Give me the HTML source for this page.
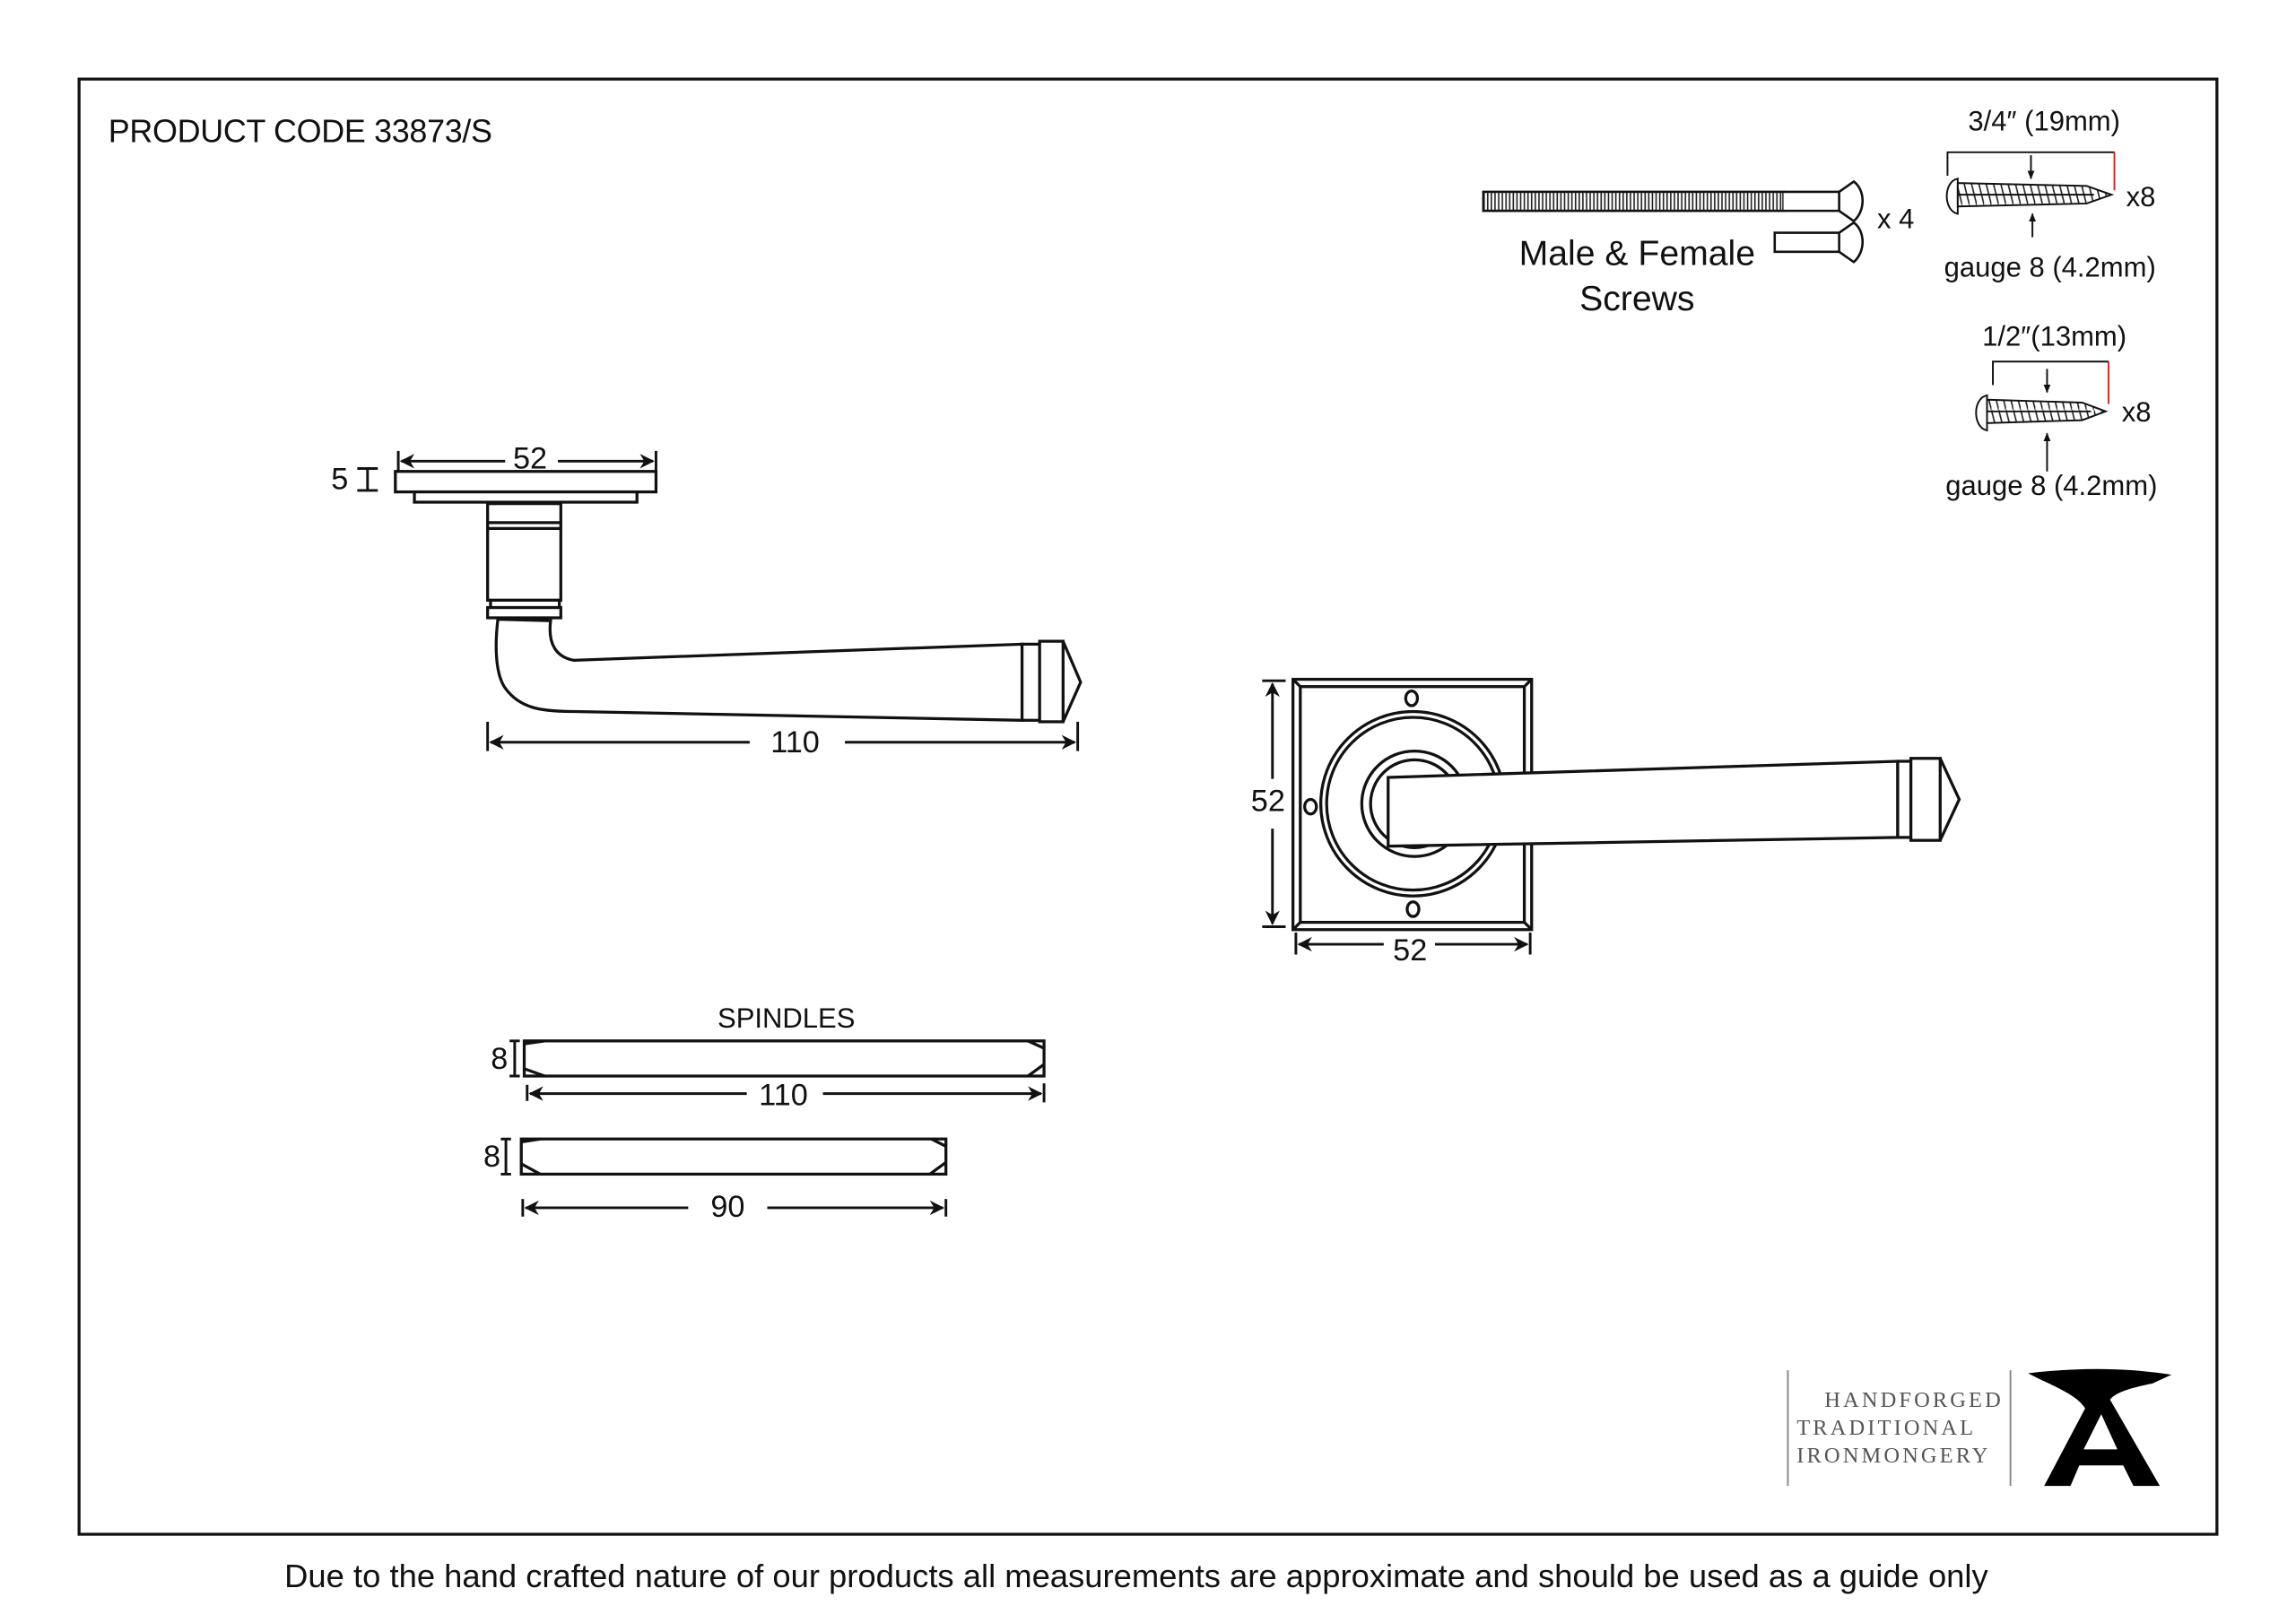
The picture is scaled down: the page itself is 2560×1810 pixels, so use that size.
<!DOCTYPE html>
<html><head><meta charset="utf-8"><style>
html,body{margin:0;padding:0;background:#fff;}
svg{display:block;}
text{font-family:"Liberation Sans",sans-serif;fill:#111;}
</style></head><body>
<svg width="2560" height="1810" viewBox="0 0 1568 1108.6" xmlns="http://www.w3.org/2000/svg">
<defs>
<marker id="a" viewBox="0 0 10 10" refX="9" refY="5" markerWidth="11" markerHeight="10" orient="auto-start-reverse" markerUnits="userSpaceOnUse"><path d="M0,0 L10,5 L0,10 L3,5 Z" fill="#111"/></marker>
<marker id="s" viewBox="0 0 10 10" refX="9" refY="5" markerWidth="6" markerHeight="6" orient="auto-start-reverse" markerUnits="userSpaceOnUse"><path d="M0,1 L10,5 L0,9 Z" fill="#111"/></marker>
<pattern id="thr" width="2.5" height="10" patternUnits="userSpaceOnUse"><rect width="2.5" height="10" fill="#fff"/><line x1="1" y1="0" x2="1" y2="10" stroke="#222" stroke-width="1"/></pattern>
<pattern id="thr2" width="5" height="20" patternUnits="userSpaceOnUse"><rect width="5" height="20" fill="#fff"/><path d="M0,0 L5,20" stroke="#222" stroke-width="1"/></pattern>
</defs>
<rect width="1568" height="1109" fill="#fff"/>
<rect x="54" y="54" width="1460" height="994" fill="none" stroke="#111" stroke-width="2"/>
<text x="74" y="97" font-size="22" letter-spacing="-0.2">PRODUCT CODE  33873/S</text>
<text x="776" y="1084" font-size="22.3" text-anchor="middle">Due to the hand crafted nature of our products all measurements are approximate and should be used as a guide only</text>

<g fill="#fff" stroke="#111" stroke-width="2">
<rect x="270" y="322" width="178" height="14"/>
<rect x="283" y="336" width="152" height="7"/>
<rect x="333" y="344" width="50" height="66"/>
<line x1="333" y1="357" x2="383" y2="357"/><line x1="333" y1="361" x2="383" y2="361"/>
<rect x="335" y="410" width="47" height="5"/>
<rect x="333" y="415" width="50" height="7"/>
<path d="M340,423 C338,440 338,460 345,470 C355,484 370,486 392,486 L698,492 L698,440 L392,451 C380,449 374,440 376,424 Z"/>
<rect x="698" y="440" width="12" height="52"/>
<rect x="710" y="438" width="16" height="55"/>
<path d="M726,438 L738,466 L726,493" fill="none"/>
<rect x="883" y="464" width="163" height="171"/>
<rect x="888" y="469" width="153" height="161"/>
<path d="M883,464 L888,469 M1046,464 L1041,469 M883,635 L888,630 M1046,635 L1041,630" fill="none"/>
<circle cx="965" cy="549" r="63"/>
<circle cx="965" cy="549" r="59"/>
<circle cx="966" cy="549" r="36"/>
<circle cx="966" cy="549" r="30"/>
<ellipse cx="964" cy="477" rx="4" ry="5"/>
<ellipse cx="965" cy="621" rx="4" ry="5"/>
<ellipse cx="895" cy="551" rx="4" ry="5"/>
<path d="M948,531 L1296,520 L1296,572 L948,578 Z"/>
<rect x="1296" y="520" width="9" height="52"/>
<rect x="1305" y="518" width="20" height="56"/>
<path d="M1325,518 L1338,546 L1325,574" fill="none"/>
<rect x="358" y="711" width="355" height="24"/>
<path d="M358,713 L372,711 M358,730 L372,735 M713,716 L702,711 M713,727 L702,735" fill="none"/>
<rect x="356" y="778" width="290" height="24"/>
<path d="M356,780 L369,778 M356,795 L369,802 M646,783 L636,778 M646,794 L635,802" fill="none"/>
</g>

<g stroke="#111" stroke-width="1.8" fill="none">
<line x1="272" y1="308" x2="272" y2="322"/><line x1="448" y1="308" x2="448" y2="322"/>
<line x1="274" y1="315" x2="345" y2="315" marker-start="url(#a)"/>
<line x1="381" y1="315" x2="446" y2="315" marker-end="url(#a)"/>
<path d="M244,320 H258 M251,320 V335 M244,335 H258"/>
<line x1="333" y1="493" x2="333" y2="513"/><line x1="736" y1="493" x2="736" y2="513"/>
<line x1="335" y1="507" x2="512" y2="507" marker-start="url(#a)"/>
<line x1="577" y1="507" x2="734" y2="507" marker-end="url(#a)"/>
<line x1="862" y1="465" x2="878" y2="465"/><line x1="862" y1="633" x2="878" y2="633"/>
<line x1="869" y1="467" x2="869" y2="532" marker-start="url(#a)"/>
<line x1="869" y1="566" x2="869" y2="631" marker-end="url(#a)"/>
<line x1="885" y1="637" x2="885" y2="652"/><line x1="1045" y1="637" x2="1045" y2="652"/>
<line x1="887" y1="645" x2="945" y2="645" marker-start="url(#a)"/>
<line x1="980" y1="645" x2="1043" y2="645" marker-end="url(#a)"/>
<path d="M348,711 H355 M351.5,711 V735 M348,735 H355"/>
<path d="M342,778 H349 M345.5,778 V802 M342,802 H349"/>
<line x1="360" y1="741" x2="360" y2="752"/><line x1="713" y1="740" x2="713" y2="753"/>
<line x1="362" y1="747" x2="510" y2="747" marker-start="url(#a)"/>
<line x1="562" y1="747" x2="711" y2="747" marker-end="url(#a)"/>
<line x1="357" y1="819" x2="357" y2="831"/><line x1="646" y1="819" x2="646" y2="831"/>
<line x1="359" y1="825" x2="470" y2="825" marker-start="url(#a)"/>
<line x1="524" y1="825" x2="644" y2="825" marker-end="url(#a)"/>
</g>

<g font-size="21">
<text x="362" y="320" text-anchor="middle">52</text>
<text x="232" y="334" text-anchor="middle">5</text>
<text x="543" y="514" text-anchor="middle">110</text>
<text x="866" y="554" text-anchor="middle">52</text>
<text x="963" y="656" text-anchor="middle">52</text>
<text x="537" y="702" text-anchor="middle" font-size="19">SPINDLES</text>
<text x="341" y="730" text-anchor="middle">8</text>
<text x="336" y="797" text-anchor="middle">8</text>
<text x="535" y="755" text-anchor="middle">110</text>
<text x="497" y="831" text-anchor="middle">90</text>
</g>

<g stroke="#111" stroke-width="1.6">
<rect x="1013" y="131" width="205" height="13" fill="url(#thr)"/>
<path d="M1218,131 H1256 L1266,124 C1274,130 1274,144 1266,151 L1256,144 H1218" fill="#fff"/>
<line x1="1256" y1="131" x2="1256" y2="144"/>
<path d="M1212,159 H1256 L1266,152 C1274,158 1274,172 1266,179 L1256,172 H1212 Z" fill="#fff"/>
<line x1="1256" y1="159" x2="1256" y2="172"/>
</g>
<text x="1282" y="156" font-size="19">x 4</text>
<text x="1118" y="181" font-size="24" text-anchor="middle">Male &amp; Female</text>
<text x="1118" y="212" font-size="24" text-anchor="middle">Screws</text>

<g stroke="#111" stroke-width="1.2" fill="none">
<path d="M1330,120 V104 H1444"/><line x1="1444" y1="104" x2="1444" y2="130" stroke="#d22"/>
<line x1="1387" y1="106" x2="1387" y2="122" marker-end="url(#s)"/>
<line x1="1388" y1="162" x2="1388" y2="146" marker-end="url(#s)"/>
<path d="M1337,122 C1327,124 1327,144 1337,146 Z" fill="#fff"/>
<path d="M1337,125 L1425,127 L1442,133 L1425,139 L1337,141 Z" fill="url(#thr2)"/>
<line x1="1337" y1="133" x2="1430" y2="133"/>
<path d="M1361,263 V247 H1440"/><line x1="1440" y1="247" x2="1440" y2="276" stroke="#d22"/>
<line x1="1398" y1="252" x2="1398" y2="268" marker-end="url(#s)"/>
<line x1="1398" y1="322" x2="1398" y2="296" marker-end="url(#s)"/>
<path d="M1357,270 C1347,272 1347,292 1357,294 Z" fill="#fff"/>
<path d="M1357,273 L1422,275 L1438,281 L1422,287 L1357,289 Z" fill="url(#thr2)"/>
<line x1="1357" y1="281" x2="1428" y2="281"/>
</g>
<text x="1396" y="89" font-size="19" text-anchor="middle">3/4″ (19mm)</text>
<text x="1452" y="141" font-size="19">x8</text>
<text x="1400" y="189" font-size="19" text-anchor="middle">gauge 8 (4.2mm)</text>
<text x="1403" y="236" font-size="19" text-anchor="middle">1/2″(13mm)</text>
<text x="1449" y="288" font-size="19">x8</text>
<text x="1401" y="338" font-size="19" text-anchor="middle">gauge 8 (4.2mm)</text>

<line x1="1221" y1="936" x2="1221" y2="1015" stroke="#888" stroke-width="1.2"/>
<line x1="1373" y1="936" x2="1373" y2="1015" stroke="#888" stroke-width="1.2"/>
<g font-size="15" letter-spacing="1.9">
<text x="1246" y="961" style="font-family:'Liberation Serif',serif;fill:#555">HANDFORGED</text>
<text x="1227" y="980" style="font-family:'Liberation Serif',serif;fill:#555">TRADITIONAL</text>
<text x="1227" y="999" style="font-family:'Liberation Serif',serif;fill:#555">IRONMONGERY</text>
</g>
<path d="M1385,938 C1420,934 1450,934 1483,939 L1470,945 C1455,948 1445,951 1441,956 L1475,1015 L1457,1015 L1450,1001 L1420,1001 L1414,1015 L1396,1015 L1424,962 C1418,952 1400,946 1385,938 Z M1423,990 L1446,990 L1435,966 Z" fill="#000" fill-rule="evenodd"/>
</svg>
</body></html>
